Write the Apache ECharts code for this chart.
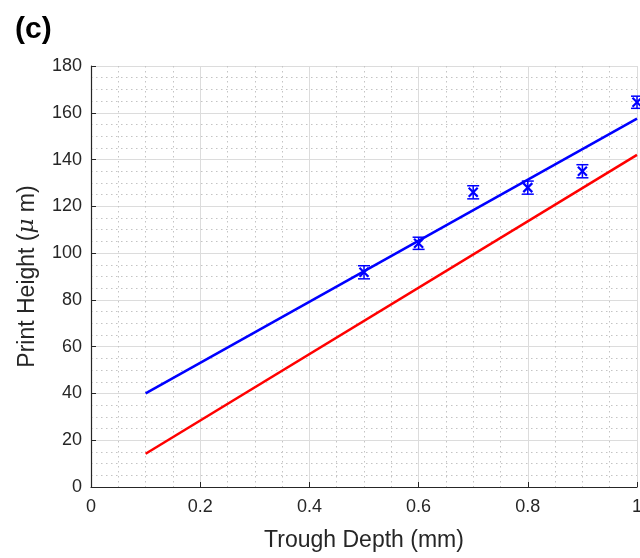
<!DOCTYPE html>
<html><head><meta charset="utf-8">
<script src="https://cdn.jsdelivr.net/npm/echarts@6/dist/echarts.min.js"></script>
<style>html,body{margin:0;padding:0;background:#fff}#c{width:640px;height:558px}</style>
</head><body><div id="c"></div>
<script>
// Measured data
const depth = [0.5, 0.6, 0.7, 0.8, 0.9, 1.0];
const height = [91.8, 104.2, 126, 128, 135, 164.5];
const errLow = [2.8, 2.6, 2.8, 2.8, 2.8, 2.6];
const errHigh = [2.8, 2.6, 2.8, 2.8, 2.8, 2.6];
// Model lines
const fitX = [0.1, 1.0];
const blueFit = [40, 157.5];
const redFit = [14.2, 142];
const xTicks = [0, 0.2, 0.4, 0.6, 0.8, 1];
const yTicks = [0, 20, 40, 60, 80, 100, 120, 140, 160, 180];

const chart = echarts.init(document.getElementById('c'));
const font = 'Liberation Sans, Arial, sans-serif';
const pts = depth.map((d, i) => [d, height[i], height[i] - errLow[i], height[i] + errHigh[i]]);
chart.setOption({
  animation: false,
  title: { text: '(c)', left: 10, top: 10, textStyle: { fontSize: 30, fontWeight: 'bold', color: '#000', fontFamily: font } },
  grid: { left: 91, right: 3, top: 66, bottom: 71, containLabel: false, outerBoundsMode: 'none', show: false },
  xAxis: {
    type: 'value', min: 0, max: 1, interval: 0.2,
    name: 'Trough Depth (mm)', nameLocation: 'middle', nameGap: 42,
    nameTextStyle: { fontSize: 23, color: '#262626', fontFamily: font },
    axisLine: { onZero: false, lineStyle: { color: '#262626', width: 1.2 } },
    axisTick: { inside: true, length: 5, lineStyle: { color: '#262626' } },
    axisLabel: { fontSize: 18, color: '#262626', fontFamily: font, margin: 11, formatter: v => String(+v.toFixed(1)) },
    splitLine: { show: true, lineStyle: { color: '#dcdcdc', width: 1 } },
    minorTick: { show: false, splitNumber: 4 },
    minorSplitLine: { show: true, lineStyle: { color: '#c4c4c4', type: [1.5, 3.5], width: 1 } }
  },
  yAxis: {
    type: 'value', min: 0, max: 180, interval: 20,
    name: 'Print Height ({i|\u03BC} m)', nameLocation: 'middle', nameGap: 52, nameRotate: 90,
    nameTextStyle: { fontSize: 23, color: '#262626', fontFamily: font, rich: { i: { fontSize: 23, fontStyle: 'italic', color: '#262626', fontFamily: 'DejaVu Serif, serif' } } },
    axisLine: { show: true, onZero: false, lineStyle: { color: '#262626', width: 1.2 } },
    axisTick: { show: true, inside: true, length: 5, lineStyle: { color: '#262626' } },
    axisLabel: { fontSize: 18, color: '#262626', fontFamily: font, margin: 9 },
    splitLine: { show: true, lineStyle: { color: '#dcdcdc', width: 1 } },
    minorTick: { show: false, splitNumber: 4 },
    minorSplitLine: { show: true, lineStyle: { color: '#c4c4c4', type: [1.5, 3.5], width: 1 } }
  },
  series: [
    { type: 'line', data: fitX.map((x, i) => [x, blueFit[i]]), showSymbol: false, lineStyle: { color: '#0000ff', width: 2.5 }, z: 3 },
    { type: 'line', data: fitX.map((x, i) => [x, redFit[i]]), showSymbol: false, lineStyle: { color: '#ff0000', width: 2.5 }, z: 3 },
    {
      type: 'custom', data: pts, z: 4,
      renderItem: function (params, api) {
        const c = api.coord([api.value(0), api.value(1)]);
        const lo = api.coord([api.value(0), api.value(2)]);
        const hi = api.coord([api.value(0), api.value(3)]);
        const cap = 6, m = 4.5;
        const st = { stroke: '#0000ff', lineWidth: 1.5, fill: null };
        return { type: 'group', children: [
          { type: 'line', shape: { x1: c[0], y1: lo[1], x2: c[0], y2: hi[1] }, style: st },
          { type: 'line', shape: { x1: c[0] - cap, y1: lo[1], x2: c[0] + cap, y2: lo[1] }, style: st },
          { type: 'line', shape: { x1: c[0] - cap, y1: hi[1], x2: c[0] + cap, y2: hi[1] }, style: st },
          { type: 'line', shape: { x1: c[0] - m, y1: c[1] - m, x2: c[0] + m, y2: c[1] + m }, style: { stroke: '#0000ff', lineWidth: 2.2 } },
          { type: 'line', shape: { x1: c[0] - m, y1: c[1] + m, x2: c[0] + m, y2: c[1] - m }, style: { stroke: '#0000ff', lineWidth: 2.2 } }
        ] };
      }
    }
  ]
});
</script></body></html>
